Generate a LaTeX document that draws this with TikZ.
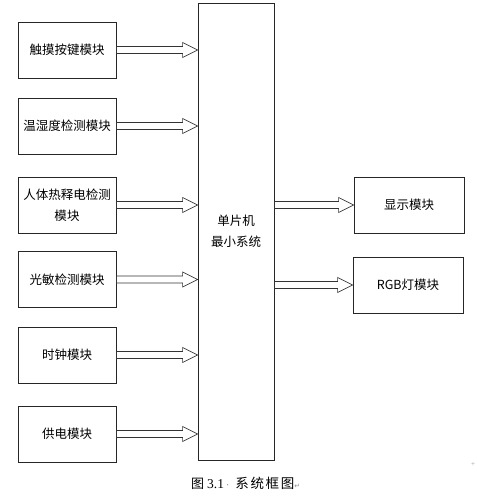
\documentclass[tikz,border=0pt]{standalone}
\usepackage{fontspec}
\setmainfont{Liberation Serif}
\newfontfamily\cjk{Noto Sans CJK SC}
\newfontfamily\cjkwide[LetterSpace=12]{Noto Sans CJK SC}
\newfontfamily\symf{DejaVu Sans}
\usetikzlibrary{calc}
\newcommand{\barrow}[2]{%
  \draw[blk] ($(#1)+(0,-3.5)$) -- ($(#2)+(-15,-3.5)$) -- ($(#2)+(-15,-7.5)$) -- (#2)
    -- ($(#2)+(-15,7.5)$) -- ($(#2)+(-15,3.5)$) -- ($(#1)+(0,3.5)$) -- cycle;}
\begin{document}
\begin{tikzpicture}[x=1pt,y=-1pt,
  box/.style={draw=black!85,line width=0.8pt,inner sep=0pt,minimum height=56pt,
    font=\cjk\fontsize{12.5}{21}\selectfont,align=center},
  lbox/.style={box,minimum width=98pt},
  rbox/.style={box,minimum width=110pt},
  blk/.style={draw=black!80,line width=0.7pt,fill=white}]
\useasboundingbox[fill=white] (0,0) rectangle (476,497);
% left modules
\node[lbox] (a1) at (67,50) {触摸按键模块};
\node[lbox] (a2) at (67,126) {温湿度检测模块};
\node[lbox] (a3) at (67,205) {人体热释电检测\\模块};
\node[lbox] (a4) at (67,279.5) {光敏检测模块};
\node[lbox] (a5) at (67,355) {时钟模块};
\node[lbox] (a6) at (67,434) {供电模块};
% MCU
\node[box,minimum width=76pt,minimum height=457pt] (m) at (236,231.5) {单片机\\最小系统};
% right modules
\node[rbox] (d) at (409,205) {显示模块};
\node[rbox] (r) at (408,285) {RGB灯模块};
% arrow end points
\coordinate (e1) at (a1.east -| m.west);
\coordinate (e2) at (a2.east -| m.west);
\coordinate (e3) at (a3.east -| m.west);
\coordinate (e4) at (a4.east -| m.west);
\coordinate (e5) at (a5.east -| m.west);
\coordinate (e6) at (a6.east -| m.west);
\coordinate (s1) at (d.west -| m.east);
\coordinate (s2) at (r.west -| m.east);
\barrow{a1.east}{e1}
\barrow{a2.east}{e2}
\barrow{a3.east}{e3}
\barrow{a4.east}{e4}
\barrow{a5.east}{e5}
\barrow{a6.east}{e6}
\barrow{s1}{d.west}
\barrow{s2}{r.west}
% caption
\node[anchor=west,inner sep=0pt] (cap) at (191,483)
  {{\cjk\fontsize{13}{13}\selectfont 图}\hspace{3pt}{\fontsize{13.5}{13}\selectfont 3.1}{\color{black!55}\fontsize{10}{10}\selectfont\hspace{2pt}·\hspace{6pt}}{\cjkwide\fontsize{13.5}{13}\selectfont 系统框图}{\symf\color{black!45}\fontsize{7}{7}\selectfont ↵}};
\node[inner sep=0pt,text=black!40,font=\fontsize{7}{7}\selectfont] (pm) at (473,465) {+};
\end{tikzpicture}
\end{document}
